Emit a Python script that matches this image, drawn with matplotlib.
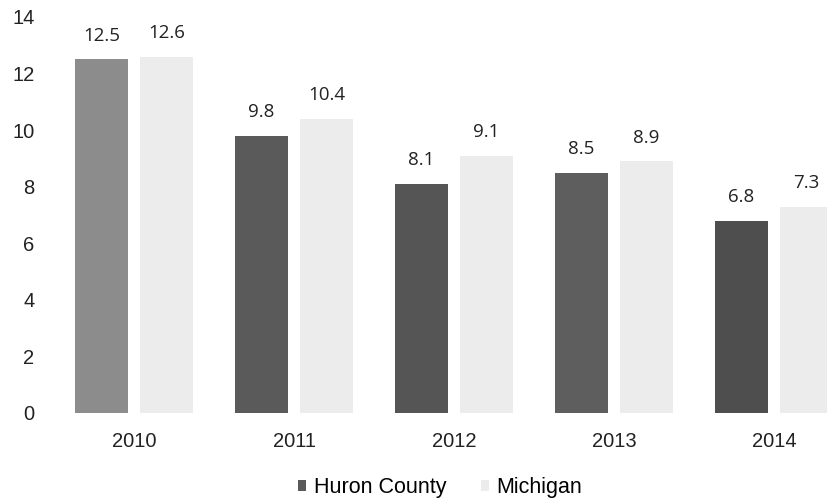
import numpy as np
import matplotlib.pyplot as plt

years = ["2010", "2011", "2012", "2013", "2014"]
huron = [12.5, 9.8, 8.1, 8.5, 6.8]
michigan = [12.6, 10.4, 9.1, 8.9, 7.3]

huron_colors = ["#8c8c8c", "#5a5a5a", "#555555", "#5e5e5e", "#4e4e4e"]
mich_color = "#ececec"

fig = plt.figure(figsize=(8.27, 5.04), dpi=100)
ax = fig.add_axes([54 / 827, 91 / 504, 1 - 54 / 827, (413 - 17) / 504])

x = np.arange(len(years))
w = 0.33
off = 0.2025

b1 = ax.bar(x - off, huron, w, color=huron_colors, label="Huron County")
b2 = ax.bar(x + off, michigan, w, color=mich_color, label="Michigan")

for bars, vals in [(b1, huron), (b2, michigan)]:
    for b, v in zip(bars, vals):
        ax.annotate(f"{v:.1f}", (b.get_x() + b.get_width() / 2, v),
                    xytext=(0, 17), textcoords="offset points",
                    ha="center", va="center", fontsize=13.5,
                    family="Open Sans", color="#222222")

ax.set_ylim(0, 14)
ax.set_xlim(-0.5, (827 - 134) / 160)
ax.set_yticks(range(0, 15, 2))
ax.set_xticks(x)
ax.set_xticklabels(years)
for s in ax.spines.values():
    s.set_visible(False)
ax.tick_params(axis="both", length=0, labelsize=14.5, colors="#222222")
ax.tick_params(axis="x", pad=14)
ax.tick_params(axis="y", pad=14)
for lab in ax.get_xticklabels() + ax.get_yticklabels():
    lab.set_family("Liberation Sans")

leg = fig.legend(handles=[b1[1], b2[0]], labels=["Huron County", "Michigan"],
                 loc="center", bbox_to_anchor=(440 / 827, 1 - 488 / 504),
                 ncol=2, frameon=False, handlelength=0.4, handleheight=0.4,
                 handletextpad=0.35, columnspacing=1.6,
                 prop={"family": "Liberation Sans", "size": 15.5})

fig.savefig("out.png", dpi=100)
